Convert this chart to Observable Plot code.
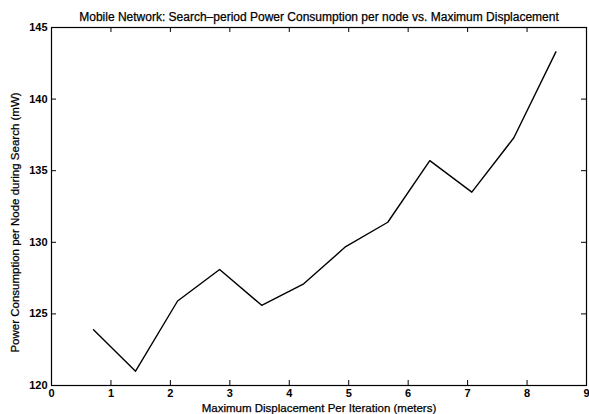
<!DOCTYPE html>
<html>
<head>
<meta charset="utf-8">
<script src="https://cdn.jsdelivr.net/npm/d3@7"></script>
<script src="https://cdn.jsdelivr.net/npm/@observablehq/plot@0.6"></script>
<style>
  html, body { margin: 0; padding: 0; background: #fff; }
  #chart svg { display: block; }
</style>
</head>
<body>
<div id="chart"></div>
<script>
const displacement = [0.707, 1.414, 2.121, 2.828, 3.536, 4.243, 4.950, 5.657, 6.364, 7.071, 7.778, 8.485];
const power = [123.9, 121.0, 125.9, 128.1, 125.6, 127.1, 129.7, 131.4, 135.7, 133.5, 137.3, 143.3];
const xTicks = [0, 1, 2, 3, 4, 5, 6, 7, 8, 9];
const yTicks = [120, 125, 130, 135, 140, 145];
const title = "Mobile Network: Search\u2013period Power Consumption per node vs. Maximum Displacement";
const xLabel = "Maximum Displacement Per Iteration (meters)";
const yLabel = "Power Consumption per Node during Search (mW)";

const data = displacement.map((x, i) => ({x, y: power[i]}));

const W = 589, H = 414;
const mL = 51, mR = 3, mT = 27, mB = 29;
const pw = W - mL - mR, ph = H - mT - mB;
const tickLen = 5;
const font = "'Liberation Sans', Arial, Helvetica, sans-serif";
const textStroke = {stroke: "#000", strokeWidth: 0.25};

const chart = Plot.plot({
  width: W,
  height: H,
  marginLeft: mL,
  marginRight: mR,
  marginTop: mT,
  marginBottom: mB,
  style: {fontFamily: font, background: "#fff", color: "#000"},
  x: {domain: [0, 9]},
  y: {domain: [120, 145]},
  marks: [
    Plot.axisX(xTicks, {tickSize: 0, tickPadding: 4, fontSize: 11, fontWeight: "bold", label: null, tickFormat: d => String(d)}),
    Plot.axisY(yTicks, {tickSize: 0, tickPadding: 4, fontSize: 11, fontWeight: "bold", label: null, tickFormat: d => String(d)}),
    // inward ticks on all four sides (MATLAB box style)
    Plot.ruleX(xTicks, {x: d => d, insetTop: ph - tickLen, stroke: "#000", strokeWidth: 1}),
    Plot.ruleX(xTicks, {x: d => d, insetBottom: ph - tickLen, stroke: "#000", strokeWidth: 1}),
    Plot.ruleY(yTicks, {y: d => d, insetRight: pw - tickLen, stroke: "#000", strokeWidth: 1}),
    Plot.ruleY(yTicks, {y: d => d, insetLeft: pw - tickLen, stroke: "#000", strokeWidth: 1}),
    Plot.frame({stroke: "#000", strokeWidth: 1.2}),
    Plot.line(data, {x: "x", y: "y", stroke: "#000", strokeWidth: 1.4}),
    Plot.text([title], {text: d => d, frameAnchor: "top", textAnchor: "middle", lineAnchor: "bottom", dy: -7, fontSize: 12, fill: "#000", ...textStroke}),
    Plot.text([xLabel], {text: d => d, frameAnchor: "bottom", textAnchor: "middle", lineAnchor: "middle", dy: 23, fontSize: 11.5, fill: "#000", ...textStroke}),
    Plot.text([yLabel], {text: d => d, frameAnchor: "left", textAnchor: "middle", rotate: -90, lineAnchor: "middle", dx: -36, dy: 16, fontSize: 11.5, fill: "#000", ...textStroke})
  ]
});
document.getElementById("chart").appendChild(chart);
</script>
</body>
</html>
